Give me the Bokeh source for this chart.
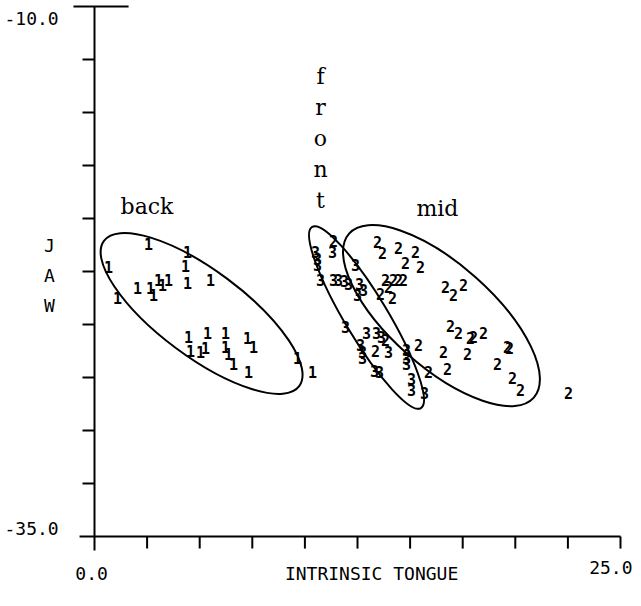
from bokeh.plotting import figure
from bokeh.models import Range1d
from bokeh.core.properties import value
from bokeh.embed import file_html
from bokeh.resources import INLINE

# ---------------- data ----------------
x_ticks = [0, 2.5, 5, 7.5, 10, 12.5, 15, 17.5, 20, 22.5, 25]
y_ticks = [-10, -12.5, -15, -17.5, -20, -22.5, -25, -27.5, -30, -32.5, -35]
x_tick_labels = ["0.0", "25.0"]
y_tick_labels = ["-10.0", "-35.0"]
x_title = "INTRINSIC TONGUE"
y_title = ["J", "A", "W"]

back_x = [2.57, 4.42, 0.67, 4.33, 2.04, 2.66, 2.80, 3.04, 3.23, 3.52, 4.42, 5.51, 1.09,
          4.47, 5.37, 6.23, 7.27, 4.56, 5.04, 5.28, 6.23, 6.37, 6.61, 7.56, 7.32, 9.65, 10.36]
back_y = [-21.18, -21.60, -22.31, -22.22, -23.30, -23.30, -23.63, -22.92, -23.16, -22.92, -23.02, -22.92, -23.77,
          -25.61, -25.42, -25.42, -25.66, -26.23, -26.32, -26.13, -26.08, -26.37, -26.84, -26.08, -27.26, -26.56, -27.26]

mid_x = [11.36, 13.45, 13.69, 14.45, 15.26, 15.49, 14.78, 13.83, 14.21, 14.45, 14.69, 13.59, 13.97, 14.16,
         16.68, 17.06, 17.54, 16.92, 17.30, 17.87, 18.01, 18.49, 15.40, 13.83, 13.36, 16.59, 17.73,
         19.63, 19.72, 19.15, 16.78, 15.87, 19.87, 20.25, 22.53]
mid_y = [-21.08, -21.13, -21.65, -21.37, -21.60, -22.31, -22.12, -22.92, -22.92, -22.92, -22.92, -23.54, -23.25, -23.77,
         -23.25, -23.63, -23.16, -25.05, -25.42, -25.66, -25.61, -25.38, -25.99, -25.75, -26.23, -26.32, -26.37,
         -26.04, -26.13, -26.84, -27.08, -27.26, -27.50, -28.11, -28.21]

front_x = [11.31, 10.50, 10.60, 10.60, 10.74, 12.41, 11.36, 11.60, 11.88, 12.07, 12.60, 12.79, 12.50,
           11.93, 12.93, 13.40, 13.64, 13.97, 12.64, 12.74, 12.74, 14.83, 14.83, 14.83, 13.31, 13.55,
           15.07, 15.07, 15.68]
front_y = [-21.60, -21.60, -21.89, -22.17, -22.92, -22.17, -22.92, -22.92, -22.97, -23.07, -23.07, -23.35, -23.63,
           -25.14, -25.42, -25.38, -25.61, -26.32, -25.99, -26.32, -26.60, -26.18, -26.56, -26.84, -27.17, -27.26,
           -27.55, -28.11, -28.25]

# ellipses: back, front, mid
ell_x = [5.09, 12.93, 16.49]
ell_y = [-24.48, -24.67, -24.58]
ell_w = [11.57, 10.04, 11.74]
ell_h = [4.07, 2.02, 4.85]
ell_angle = [-0.64, -1.03, -0.726]

group_names = ["back", "front", "mid"]

# ---------------- figure ----------------
p = figure(width=633, height=590,
           x_range=Range1d(-4.4677, 25.618), y_range=Range1d(-37.547, -9.717),
           output_backend="svg", toolbar_location=None, min_border=0,
           x_axis_type=None, y_axis_type=None)
p.outline_line_color = None
p.background_fill_color = "white"
p.border_fill_color = "white"

LW = 2
x0, x1 = x_ticks[0], x_ticks[-1]
y0, y1 = y_ticks[-1], y_ticks[0]
tlen_x = 0.57
tlen_y = 0.57

# axis lines
p.segment(x0=[x0], y0=[y0 - 0.66], x1=[x0], y1=[y1], line_color="black", line_width=LW)
p.segment(x0=[x0 - 0.71], y0=[y0], x1=[x1], y1=[y0], line_color="black", line_width=LW)
# top tick line
p.segment(x0=[x0 - 1.0], y0=[y1], x1=[x0 + 1.62], y1=[y1], line_color="black", line_width=LW)
# y ticks (outward, left)
p.segment(x0=[x0 - tlen_y] * (len(y_ticks) - 2), y0=y_ticks[1:-1],
          x1=[x0] * (len(y_ticks) - 2), y1=y_ticks[1:-1], line_color="black", line_width=LW)
# x ticks (down)
p.segment(x0=x_ticks[1:], y0=[y0] * (len(x_ticks) - 1),
          x1=x_ticks[1:], y1=[y0 - tlen_x] * (len(x_ticks) - 1), line_color="black", line_width=LW)

mono = value("DejaVu Sans Mono")
serif = value("DejaVu Serif")

# tick labels
p.text(x=[x0 - 2.99, x0 - 2.99], y=[y1 - 0.57, y0 + 0.38], text=y_tick_labels,
       text_font=mono, text_font_size="18px", text_align="center", text_baseline="middle", text_color="black")
p.text(x=[x0 - 0.14], y=[y0 - 1.75], text=[x_tick_labels[0]],
       text_font=mono, text_font_size="18px", text_align="center", text_baseline="middle", text_color="black")
p.text(x=[x1 + 0.57], y=[y0 - 1.46], text=[x_tick_labels[1]],
       text_font=mono, text_font_size="18px", text_align="right", text_baseline="middle", text_color="black")
# axis titles
p.text(x=[13.17], y=[y0 - 1.75], text=[x_title],
       text_font=mono, text_font_size="18px", text_align="center", text_baseline="middle", text_color="black")
p.text(x=[x0 - 2.14] * 3, y=[-21.27, -22.69, -24.10], text=y_title,
       text_font=mono, text_font_size="18px", text_align="center", text_baseline="middle", text_color="black")

# ellipses
p.ellipse(x=ell_x, y=ell_y, width=ell_w, height=ell_h, angle=ell_angle,
          fill_color=None, line_color="black", line_width=LW)

# group labels
p.text(x=[1.24], y=[-19.42], text=[group_names[0]], text_font=serif, text_font_size="22px",
       text_align="left", text_baseline="alphabetic", text_color="black")
p.text(x=[15.30], y=[-19.55], text=[group_names[2]], text_font=serif, text_font_size="22px",
       text_align="left", text_baseline="alphabetic", text_color="black")
front_letters = list(group_names[1])
p.text(x=[10.74] * 5, y=[-13.30, -14.76, -16.23, -17.69, -19.15], text=front_letters,
       text_font=serif, text_font_size="22px", text_align="center", text_baseline="alphabetic", text_color="black")

# points
for xs, ys, lab in [(back_x, back_y, "1"), (mid_x, mid_y, "2"), (front_x, front_y, "3")]:
    p.text(x=xs, y=ys, text=[lab] * len(xs), text_font=mono, text_font_size="15px",
           text_font_style="bold", text_align="center", text_baseline="middle", text_color="black")

open("out.html", "w").write(file_html(p, INLINE))
